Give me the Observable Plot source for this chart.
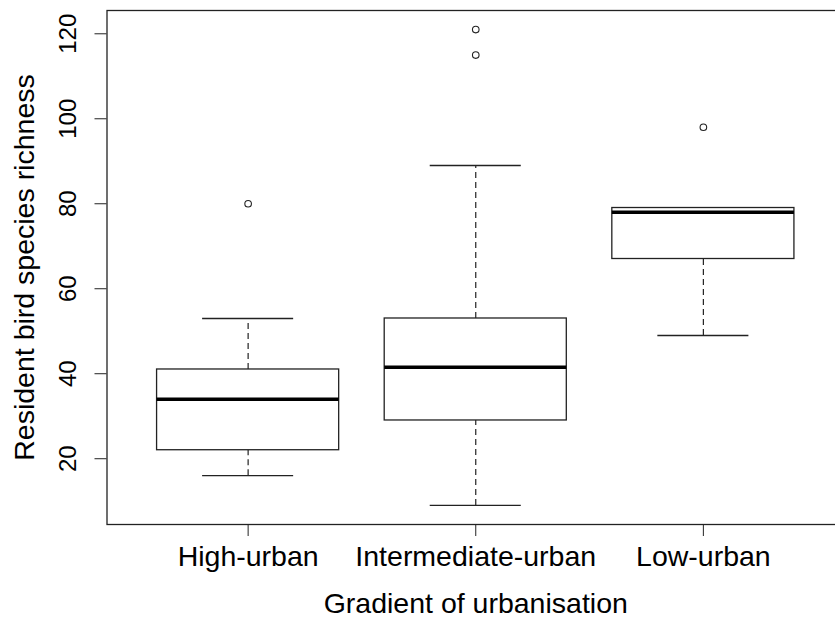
<!DOCTYPE html>
<html><head><meta charset="utf-8">
<script src="https://cdn.jsdelivr.net/npm/d3@7"></script>
<script src="https://cdn.jsdelivr.net/npm/@observablehq/plot@0.6"></script>
<style>
html,body{margin:0;padding:0;background:#fff;overflow:hidden}
#chart svg{overflow:hidden;display:block}
</style></head><body><div id="chart"></div>
<script>
const categories = ["High-urban", "Intermediate-urban", "Low-urban"];
const lowerWhisker = [16, 9, 49];
const lowerQuartile = [22, 29, 67];
const medians = [34, 41.5, 78];
const upperQuartile = [41, 53, 79];
const upperWhisker = [53, 89, 79];
const outliers = [[80], [115, 121], [98]];
const yTicks = [20, 40, 60, 80, 100, 120];
const xTitle = "Gradient of urbanisation";
const yTitle = "Resident bird species richness";

const boxes = categories.map((c, i) => ({
  cat: c, pos: i + 1,
  lo: lowerWhisker[i], q1: lowerQuartile[i], med: medians[i],
  q3: upperQuartile[i], hi: upperWhisker[i]
}));
const outlierPoints = outliers.flatMap((vals, i) => vals.map(v => ({pos: i + 1, value: v})));

const allVals = [...lowerWhisker, ...upperWhisker, ...outliers.flat()];
const yMin = d3.min(allVals), yMax = d3.max(allVals);
const yPad = (yMax - yMin) * 0.04;
const n = categories.length;
const xPad = n * 0.04;
const halfBox = 0.4, halfStaple = 0.2;
const ink = "#222";

const chart = Plot.plot({
  width: 835,
  height: 619,
  marginLeft: 106.5,
  marginRight: -9,
  marginTop: 10,
  marginBottom: 95,
  style: {fontFamily: "'Liberation Sans', Arial, sans-serif", color: "#000", background: "#fff"},
  x: {type: "linear", domain: [0.5 - xPad, n + 0.5 + xPad]},
  y: {domain: [yMin - yPad, yMax + yPad]},
  marks: [
    Plot.ruleX(boxes, {x: "pos", y1: "q3", y2: "hi", stroke: ink, strokeWidth: 1.2, strokeDasharray: "6,4"}),
    Plot.ruleX(boxes, {x: "pos", y1: "lo", y2: "q1", stroke: ink, strokeWidth: 1.2, strokeDasharray: "6,4"}),
    Plot.ruleY(boxes, {y: "hi", x1: d => d.pos - halfStaple, x2: d => d.pos + halfStaple, stroke: ink, strokeWidth: 1.3}),
    Plot.ruleY(boxes, {y: "lo", x1: d => d.pos - halfStaple, x2: d => d.pos + halfStaple, stroke: ink, strokeWidth: 1.3}),
    Plot.rect(boxes, {x1: d => d.pos - halfBox, x2: d => d.pos + halfBox, y1: "q1", y2: "q3", fill: "#fff", stroke: ink, strokeWidth: 1.3}),
    Plot.ruleY(boxes, {y: "med", x1: d => d.pos - halfBox, x2: d => d.pos + halfBox, stroke: "#000", strokeWidth: 3.5}),
    Plot.dot(outlierPoints, {x: "pos", y: "value", r: 3.3, stroke: ink, strokeWidth: 1.1, fill: "none"}),
    Plot.frame({stroke: ink, strokeWidth: 1.3}),
    Plot.axisY({ticks: yTicks, tickSize: 12, tickPadding: 19, tickRotate: -90, fontSize: 24, label: null, stroke: ink}),
    Plot.axisX({ticks: categories.map((_, i) => i + 1), tickFormat: i => categories[i - 1], tickSize: 12, tickPadding: 9, fontSize: 28.5, label: null, stroke: ink}),
    Plot.text([xTitle], {frameAnchor: "bottom", dy: 88, lineAnchor: "bottom", textAnchor: "middle", fontSize: 28.5, fill: "#000"}),
    Plot.text([yTitle], {frameAnchor: "left", rotate: -90, dx: -73.5, lineAnchor: "bottom", textAnchor: "middle", fontSize: 28.5, fill: "#000"})
  ]
});
document.getElementById("chart").append(chart);
</script></body></html>
